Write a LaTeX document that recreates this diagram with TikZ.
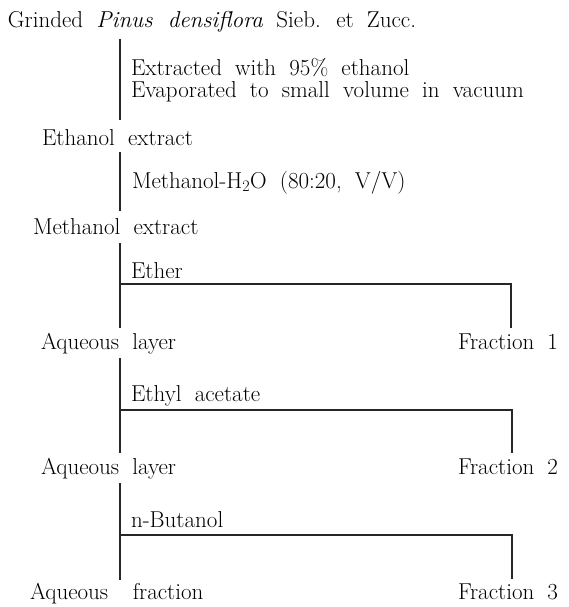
\documentclass[tikz,border=0pt]{standalone}
\usepackage{fontspec}
\setmainfont{Latin Modern Roman}[WordSpace=1.9]
\begin{document}
\begin{tikzpicture}[x=1pt,y=-1pt,
  lbl/.style={anchor=base west,inner sep=0pt,outer sep=0pt,font=\fontsize{23}{27}\selectfont},
  conn/.style={line width=1.2pt,draw=black!85}]
\useasboundingbox (0,0) rectangle (568,607);
% texts
\node[lbl] (title) at (8,28) {Grinded \textit{Pinus densiflora} Sieb. et Zucc.};
\node[lbl] (ext1) at (131,76) {Extracted with 95\% ethanol};
\node[lbl] (ext2) at (131,98) {Evaporated to small volume in vacuum};
\node[lbl] (ethx) at (42,146) {Ethanol extract};
\node[lbl] (mwat) at (132,188) {Methanol-H\textsubscript{2}O (80:20, V/V)};
\node[lbl] (metx) at (33,234) {Methanol extract};
\node[lbl] (ether) at (131,278) {Ether};
\node[lbl] (aq1) at (41,349) {Aqueous layer};
\node[lbl] (fr1) at (458,349) {Fraction 1};
\node[lbl] (etac) at (131,401) {Ethyl acetate};
\node[lbl] (aq2) at (41,474) {Aqueous layer};
\node[lbl] (fr2) at (458,474) {Fraction 2};
\node[lbl] (buta) at (131,527) {n-Butanol};
\node[lbl] (aq3) at (30,599) {Aqueous\hspace{0.5em} fraction};
\node[lbl] (fr3) at (458,599) {Fraction 3};
% connector ends
\coordinate (a0) at (120,39);
\coordinate (a1) at (120,120);
\coordinate (b0) at (120,152);
\coordinate (b1) at (120,211);
\coordinate (c0) at (120,243);
\coordinate (c1) at (120,328);
\coordinate (cr) at (511,284);
\coordinate (cl) at (120,284);
\coordinate (ce) at (511,328);
\coordinate (d0) at (120,358);
\coordinate (d1) at (120,453);
\coordinate (dl) at (120,410);
\coordinate (dr) at (512,410);
\coordinate (de) at (512,453);
\coordinate (e0) at (120,483);
\coordinate (e1) at (120,580);
\coordinate (el) at (120,535);
\coordinate (er) at (512,535);
\coordinate (ee) at (512,579);
% connectors
\draw[conn] (a0) -- (a1);
\draw[conn] (b0) -- (b1);
\draw[conn] (c0) -- (c1);
\draw[conn] (cl) -- (cr) -- (ce);
\draw[conn] (d0) -- (d1);
\draw[conn] (dl) -- (dr) -- (de);
\draw[conn] (e0) -- (e1);
\draw[conn] (el) -- (er) -- (ee);
\end{tikzpicture}
\end{document}
